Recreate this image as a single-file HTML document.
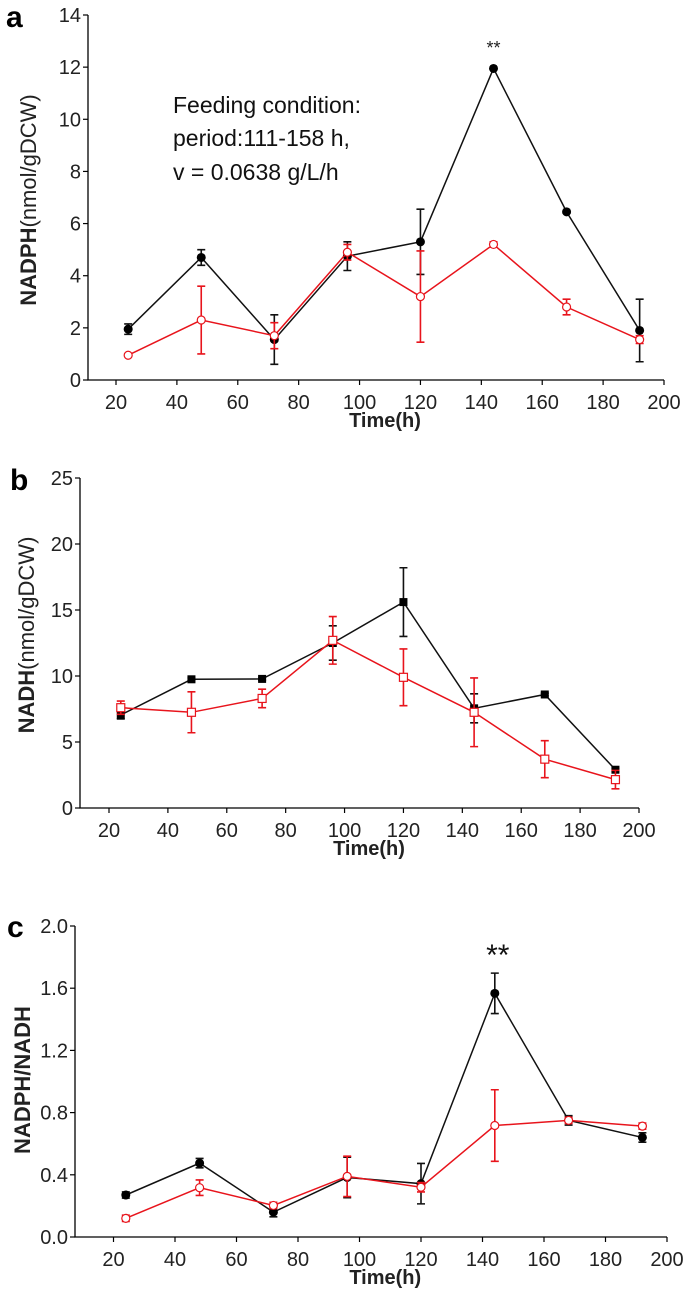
<!DOCTYPE html>
<html><head><meta charset="utf-8"><style>
body{margin:0;background:#fff;}
svg{display:block;font-family:"Liberation Sans",Arial,sans-serif;}
</style></head><body>
<svg id="fig" width="685" height="1292" viewBox="0 0 685 1292" xmlns="http://www.w3.org/2000/svg"></svg>
<script>
const times = [24,48,72,96,120,144,168,192];
const aBlack = [1.95,4.7,1.55,4.75,5.3,11.95,6.45,1.9];
const aBlackErr = [0.2,0.3,0.95,0.55,1.25,0.05,0.05,1.2];
const aRed = [0.95,2.3,1.7,4.9,3.2,5.2,2.8,1.55];
const aRedErr = [0.05,1.3,0.5,0.3,1.75,0.1,0.3,0.15];
const bBlack = [7.05,9.75,9.78,12.5,15.6,7.55,8.6,2.9];
const bBlackErr = [0.3,0.1,0.1,1.3,2.6,1.1,0.1,0.1];
const bRed = [7.6,7.25,8.3,12.7,9.9,7.25,3.7,2.15];
const bRedErr = [0.5,1.55,0.7,1.8,2.15,2.6,1.4,0.7];
const cBlack = [0.27,0.475,0.16,0.383,0.343,1.567,0.75,0.64];
const cBlackErr = [0.02,0.03,0.03,0.13,0.13,0.13,0.03,0.03];
const cRed = [0.12,0.317,0.203,0.39,0.32,0.717,0.75,0.713];
const cRedErr = [0.02,0.05,0.02,0.13,0.03,0.23,0.02,0.02];
const xTicks = [20,40,60,80,100,120,140,160,180,200];
const aYTicks = [0,2,4,6,8,10,12,14];
const bYTicks = [0,5,10,15,20,25];
const cYTicks = ["0.0","0.4","0.8","1.2","1.6","2.0"];

const NS="http://www.w3.org/2000/svg";
const svg=document.getElementById('fig');
function mk(tag,attrs,parent){const e=document.createElementNS(NS,tag);for(const k in attrs)e.setAttribute(k,attrs[k]);(parent||svg).appendChild(e);return e;}

function panel(p){
  const g=mk('g',{});
  
  
  const X=t=>p.x0+(t-20)*(p.x1-p.x0)/180;
  const Y=v=>p.y0-(v-p.ymin)*(p.y0-p.y1)/(p.ymax-p.ymin);
  const ax=mk('path',{d:`M${p.axL},${Y(p.ymax)} V${p.y0} H${X(200)}`,stroke:'#000','stroke-width':1.3,fill:'none'},g);
  
  
  p.yt.forEach(v=>{
    const n=parseFloat(v);
    mk('line',{x1:p.axL-5,x2:p.axL,y1:Y(n),y2:Y(n),stroke:'#000','stroke-width':1.2},g);
    const t=mk('text',{x:p.axL-7,y:Y(n)+7,'text-anchor':'end','font-size':p.fs,fill:'#222'},g);
    t.textContent=v;
    
    
  });
  xTicks.forEach(v=>{
    mk('line',{x1:X(v),x2:X(v),y1:p.y0,y2:p.y0+5,stroke:'#000','stroke-width':1.2},g);
    const t=mk('text',{x:X(v),y:p.y0+29,'text-anchor':'middle','font-size':p.fs,fill:'#222'},g);
    t.textContent=v;
    
    
  });
  const xt=mk('text',{x:(X(20)+X(200))/2-5,y:p.y0+47,'text-anchor':'middle','font-size':20,'font-weight':'bold',fill:'#222'},g);
  xt.textContent='Time(h)';
  
  
  const yt=mk('text',{x:0,y:0,transform:`translate(${p.ylx},${p.yly}) rotate(-90)`,'text-anchor':'middle','font-size':p.yfs,fill:'#222'},g);
  yt.innerHTML=p.ylab;
  
  
  const lt=mk('text',{x:p.lx,y:p.ly,'font-size':30,'font-weight':'bold',fill:'#000'},g);
  lt.textContent=p.letter;
  
  
  [[p.black,p.blackErr,'#111','black'],[p.red,p.redErr,'#e8141c','red']].forEach(([vals,err,col,nm])=>{
    const pts=times.map((t,i)=>X(t)+','+Y(vals[i])).join(' ');
    const pl=mk('polyline',{points:pts,fill:'none',stroke:col,'stroke-width':1.5},g);
    
    
    times.forEach((t,i)=>{
      const x=X(t),yh=Y(vals[i]+err[i]),yl=Y(vals[i]-err[i]);
      const eb=mk('path',{d:`M${x},${yh}V${yl}M${x-4},${yh}H${x+4}M${x-4},${yl}H${x+4}`,stroke:col,'stroke-width':1.6,fill:'none'},g);
      
      
      let m;
      const y=Y(vals[i]);
      if(nm==='black'){
        m=p.bshape==='sq'?mk('rect',{x:x-4,y:y-4,width:8,height:8,fill:'#000'},g):mk('circle',{cx:x,cy:y,r:4.5,fill:'#000'},g);
      } else {
        m=p.rshape==='sq'?mk('rect',{x:x-4,y:y-4,width:8,height:8,fill:'#fff',stroke:col,'stroke-width':1.2},g):mk('circle',{cx:x,cy:y,r:4,fill:'#fff',stroke:col,'stroke-width':1.2},g);
      }
      
      
    });
  });
  return {g,X,Y};
}

const a=panel({name:'panel-a-nadph',x0:116,x1:664,axL:88,y0:380,y1:15,ymin:0,ymax:14,yt:aYTicks.map(String),fs:20,
  ylab:'<tspan font-weight="bold">NADPH</tspan>(nmol/gDCW)',ylx:36,yly:200,yfs:22,letter:'a',lx:6,ly:27,
  black:aBlack,blackErr:aBlackErr,red:aRed,redErr:aRedErr,bshape:'c',rshape:'c'});
const b=panel({name:'panel-b-nadh',x0:109,x1:639,axL:80,y0:808,y1:478,ymin:0,ymax:25,yt:bYTicks.map(String),fs:20,
  ylab:'<tspan font-weight="bold">NADH</tspan>(nmol/gDCW)',ylx:34,yly:635,yfs:22,letter:'b',lx:10,ly:490,
  black:bBlack,blackErr:bBlackErr,red:bRed,redErr:bRedErr,bshape:'sq',rshape:'sq'});
const c=panel({name:'panel-c-ratio',x0:113.5,x1:667,axL:75,y0:1237,y1:926,ymin:0,ymax:2,yt:cYTicks,fs:20,
  ylab:'<tspan font-weight="bold">NADPH/NADH</tspan>',ylx:30,yly:1080,yfs:22,letter:'c',lx:7,ly:937,
  black:cBlack,blackErr:cBlackErr,red:cRed,redErr:cRedErr,bshape:'c',rshape:'c'});

const ann=mk('text',{x:173,y:113,'font-size':23,fill:'#111'});
ann.innerHTML='<tspan x="173" dy="0">Feeding condition:</tspan><tspan x="173" dy="33">period:111-158 h,</tspan><tspan x="173" dy="34">v = 0.0638 g/L/h</tspan>';


const s1=mk('text',{x:a.X(144),y:54,'text-anchor':'middle','font-size':18,fill:'#222'});
s1.textContent='**';


const s2=mk('text',{x:c.X(144)+3,y:965,'text-anchor':'middle','font-size':30,fill:'#111'});
s2.textContent='**';


</script>
</body></html>
